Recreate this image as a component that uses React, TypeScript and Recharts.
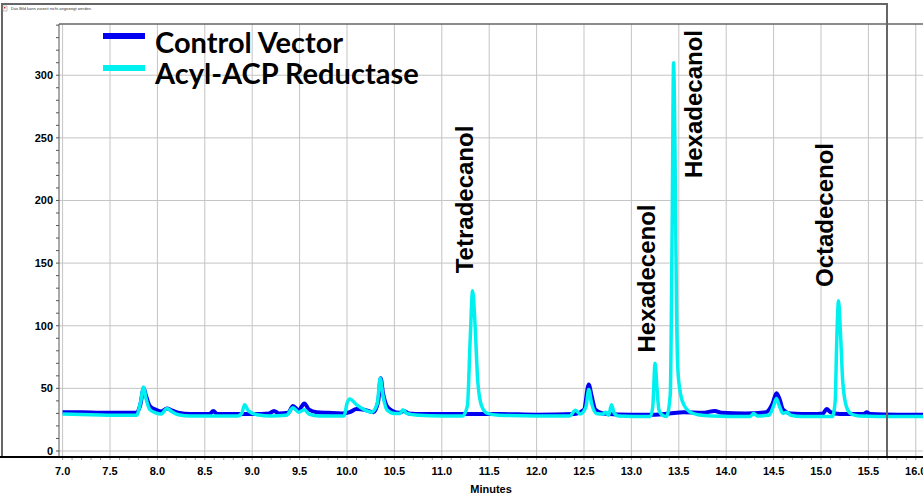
import React from 'react';
import { LineChart, Line, XAxis, YAxis, CartesianGrid, Legend, ReferenceDot } from 'recharts';

// GC trace, retention time in minutes vs detector response
const controlTimes = [
  7.0, 7.2, 7.4, 7.6, 7.78, 7.82, 7.855, 7.88, 7.92, 7.98, 8.04, 8.1, 8.15, 8.22, 8.35, 8.55, 8.59, 8.63,
  8.85, 9.0, 9.18, 9.23, 9.28, 9.38, 9.43, 9.49, 9.55, 9.6, 9.68, 9.8, 9.95, 10.03, 10.1, 10.18, 10.28,
  10.33, 10.355, 10.38, 10.42, 10.48, 10.55, 10.6, 10.65, 10.8, 11.2, 11.6, 12.0, 12.4, 12.5, 12.55, 12.58,
  12.62, 12.7, 13.0, 13.25, 13.4, 13.55, 13.75, 13.88, 13.95, 14.2, 14.42, 14.49, 14.53, 14.56, 14.6, 14.68,
  14.9, 15.02, 15.06, 15.1, 15.2, 15.45, 15.48, 15.52, 15.8, 16.08,
];
const controlSignal = [
  31, 31, 30.5, 30.5, 30.5, 37, 50, 44, 36, 33, 31.5, 34, 32.5, 30.5, 29.5, 29.5, 32, 29.5,
  29.5, 29.5, 30, 32, 30, 30.5, 36, 32.5, 38, 33, 31, 30.5, 30, 31, 33.5, 33, 31,
  40, 58, 46, 36, 32, 30.5, 32, 30, 29.5, 29.5, 29.5, 29, 29.5, 33, 53, 44,
  33, 30, 29, 29, 30, 31, 30.5, 32, 30.5, 30, 31, 38, 46, 42, 33, 30,
  29.5, 30, 33.5, 31, 29.5, 29.5, 31, 29.5, 29, 29,
];

const reductaseTimes = [
  7.0, 7.3, 7.6, 7.78, 7.82, 7.855, 7.88, 7.92, 7.98, 8.04, 8.1, 8.15, 8.22, 8.35, 8.7, 8.85, 8.89, 8.92,
  8.96, 9.05, 9.2, 9.36, 9.43, 9.49, 9.55, 9.6, 9.7, 9.97, 10.0, 10.03, 10.1, 10.18, 10.26, 10.32, 10.35,
  10.38, 10.42, 10.5, 10.56, 10.59, 10.63, 10.75, 11.0, 11.22, 11.27, 11.3, 11.325, 11.35, 11.38, 11.42,
  11.48, 11.6, 12.0, 12.35, 12.41, 12.46, 12.52, 12.55, 12.58, 12.63, 12.7, 12.73, 12.76, 12.79, 12.82,
  12.86, 13.2, 13.225, 13.25, 13.27, 13.29, 13.32, 13.37, 13.41, 13.43, 13.445, 13.46, 13.475, 13.49,
  13.52, 13.56, 13.62, 13.7, 13.85, 14.25, 14.29, 14.33, 14.45, 14.5, 14.53, 14.56, 14.6, 14.64, 14.68,
  14.8, 15.12, 15.15, 15.165, 15.185, 15.205, 15.23, 15.27, 15.32, 15.4, 15.8, 16.08,
];
const reductaseSignal = [
  29.5, 29, 28.5, 28.5, 38, 51, 42, 33, 30.5, 29.5, 34, 31.5, 29, 28, 28, 28, 30, 37,
  32, 29, 28, 28.5, 34.5, 31, 33, 29.5, 28, 28, 38, 41.5, 37, 33, 31, 38, 58,
  44, 33, 30, 30, 33, 30, 28.5, 28, 28, 36, 90, 128, 102, 55, 36,
  30, 28.5, 28, 28, 32.5, 29.5, 35, 49, 38, 30, 29.5, 31, 28.5, 37, 30,
  28, 27.5, 35, 70, 50, 33, 29, 27.5, 45, 180, 310, 240, 120, 65,
  45, 36, 31, 29, 28, 27.5, 30, 28, 28.5, 36, 42, 36, 30, 31, 28.5,
  27.5, 27.5, 40, 85, 120, 95, 55, 35, 29.5, 28, 27.5, 27.5,
];

const seriesNames = ['Control Vector', 'Acyl-ACP Reductase'];

const xMajorTicks = [7.0, 7.5, 8.0, 8.5, 9.0, 9.5, 10.0, 10.5, 11.0, 11.5, 12.0, 12.5, 13.0, 13.5, 14.0, 14.5, 15.0, 15.5, 16.0];
const yMajorTicks = [0, 50, 100, 150, 200, 250, 300];

// compound names set along the peaks (anchor = text baseline centre)
const peakLabels = [
  { name: 'Tetradecanol', t: 11.33, v: 200.8 },
  { name: 'Hexadecenol', t: 13.25, v: 137.7 },
  { name: 'Hexadecanol', t: 13.745, v: 277 },
  { name: 'Octadecenol', t: 15.125, v: 188.4 },
];

const controlData = controlTimes.map((t, i) => ({ t, v: controlSignal[i] }));
const reductaseData = reductaseTimes.map((t, i) => ({ t, v: reductaseSignal[i] }));

// minor ticks every 0.1 min and every 10 units
const xTicks = Array.from({ length: 91 }, (_, i) => Math.round((7 + i * 0.1) * 10) / 10);
const yTicks = Array.from({ length: 35 }, (_, i) => i * 10);

const AXIS_FONT = '"Liberation Sans", Arial, sans-serif';
const BLUE = '#0000f0';
const CYAN = '#00f0f0';

const XTick = ({ x, y, payload }: any) => {
  const v = payload.value;
  const major = Math.abs(v * 2 - Math.round(v * 2)) < 1e-6;
  return (
    <g>
      <line x1={x} x2={x} y1={y} y2={y + 3} stroke="#999" />
      {major && (
        <text x={x} y={y + 18} textAnchor="middle" fontFamily={AXIS_FONT} fontWeight="bold" fontSize={11} fill="#000">
          {v.toFixed(1)}
        </text>
      )}
    </g>
  );
};

const YTick = ({ x, y, payload }: any) => {
  const v = payload.value;
  return (
    <g>
      <line x1={x - 3} x2={x} y1={y} y2={y} stroke="#555" />
      {v % 50 === 0 && v <= 300 && (
        <text x={x - 6} y={y + 4} textAnchor="end" fontFamily={AXIS_FONT} fontWeight="bold" fontSize={11} fill="#000">
          {v}
        </text>
      )}
    </g>
  );
};

const LegendContent = ({ payload }: any) => {
  const items = [...(payload || [])].sort(
    (a: any, b: any) => seriesNames.indexOf(a.value) - seriesNames.indexOf(b.value)
  );
  return (
    <svg width={430} height={95} style={{ display: 'block' }}>
      {items.map((entry: any, i: number) => (
        <g key={entry.value}>
          <rect x={103} y={33 + i * 32} width={42} height={6} fill={entry.color} />
          <text x={155} y={53 + i * 30.5} fontFamily="Lato, sans-serif" fontWeight={700} fontSize={29} fill="#000">
            {entry.value}
          </text>
        </g>
      ))}
    </svg>
  );
};

const PeakName = (name: string) => (props: any) => (
  <text
    transform={`translate(${props.cx},${props.cy}) rotate(-90)`}
    textAnchor="middle"
    fontFamily={AXIS_FONT}
    fontWeight="bold"
    fontSize={24}
    fill="#000"
  >
    {name}
  </text>
);

export default function App() {
  return (
    <div style={{ position: 'absolute', left: 0, top: 0, width: 923, height: 498, overflow: 'hidden', background: '#fff' }}>
      <LineChart width={923} height={498} margin={{ top: 24, right: 0, bottom: 0, left: 0 }}>
        <CartesianGrid stroke="#c4c4c4" horizontalValues={yMajorTicks} verticalValues={xMajorTicks} />
        <XAxis
          type="number"
          dataKey="t"
          domain={[6.962, 16.076]}
          allowDataOverflow
          ticks={xTicks}
          interval={0}
          height={41}
          tickSize={0}
          tickMargin={0}
          tickLine={false}
          tick={<XTick />}
          axisLine={{ stroke: '#000', strokeWidth: 2 }}
          label={{ value: 'Minutes', position: 'insideBottom', offset: 5, fontFamily: AXIS_FONT, fontWeight: 'bold', fontSize: 11, fill: '#000' }}
        />
        <YAxis
          type="number"
          domain={[-4.8, 340.9]}
          allowDataOverflow
          ticks={yTicks}
          interval={0}
          width={59}
          tickSize={0}
          tickMargin={0}
          tickLine={false}
          tick={<YTick />}
          axisLine={{ stroke: '#555' }}
        />
        <Legend verticalAlign="middle" content={<LegendContent />} wrapperStyle={{ left: 0, top: 0, width: 430, height: 95 }} />
        <Line data={controlData} dataKey="v" name={seriesNames[0]} type="monotone" stroke={BLUE} strokeWidth={4} dot={false} isAnimationActive={false} />
        <Line data={reductaseData} dataKey="v" name={seriesNames[1]} type="monotone" stroke={CYAN} strokeWidth={3.5} dot={false} isAnimationActive={false} />
        {peakLabels.map((p) => (
          <ReferenceDot key={p.name} x={p.t} y={p.v} r={0} ifOverflow="visible" shape={PeakName(p.name)} />
        ))}
      </LineChart>
      {/* window frame around the plot */}
      <svg width={923} height={498} style={{ position: 'absolute', left: 0, top: 0, pointerEvents: 'none' }}>
        <line x1={59} x2={923} y1={24} y2={24} stroke="#666" strokeWidth={1.5} />
        <polyline points="2,457 2,4 887,4 887,457" fill="none" stroke="#666" strokeWidth={2} />
        <line x1={0} x2={923} y1={457} y2={457} stroke="#000" strokeWidth={2} />
        <rect x={3} y={6} width={4} height={5} fill="#fff" stroke="#999" strokeWidth={0.6} />
        <rect x={4} y={7} width={1.5} height={1.5} fill="#d33" />
        <text x={11} y={10} fontFamily={AXIS_FONT} fontSize={4} fill="#333">
          Das Bild kann zurzeit nicht angezeigt werden.
        </text>
      </svg>
    </div>
  );
}
